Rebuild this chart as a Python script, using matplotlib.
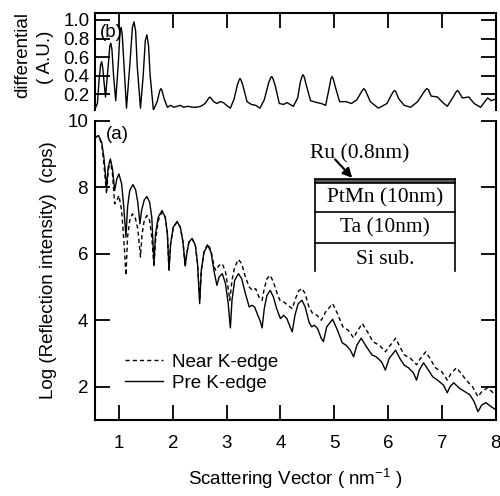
import numpy as np
import matplotlib
matplotlib.use("Agg")
import matplotlib.pyplot as plt

plt.rcParams['font.family'] = ['Liberation Sans', 'DejaVu Sans']

# top panel (b): differential signal
diff_x = [0.56, 0.60, 0.63, 0.66, 0.68, 0.70, 0.72, 0.75, 0.80, 0.83, 0.85, 0.87, 0.90, 0.94,
          0.99, 1.02, 1.04, 1.06, 1.09, 1.14, 1.20, 1.25, 1.28, 1.31, 1.34, 1.40, 1.45, 1.49,
          1.52, 1.55, 1.58, 1.64, 1.71, 1.76, 1.78, 1.80, 1.84, 1.90, 1.96, 2.02,
          2.08, 2.14, 2.20, 2.28, 2.36, 2.44, 2.52, 2.60, 2.67, 2.69, 2.72, 2.76, 2.82, 2.88,
          2.94, 3.00, 3.07, 3.14, 3.20, 3.23, 3.25, 3.27, 3.30, 3.38, 3.46, 3.54, 3.62, 3.70,
          3.78, 3.82, 3.84, 3.86, 3.90, 3.98, 4.06, 4.12, 4.24, 4.32, 4.37, 4.40, 4.42, 4.44,
          4.48, 4.56, 4.68, 4.76, 4.84, 4.90, 4.94, 4.96, 4.98, 5.02, 5.10, 5.22, 5.32, 5.42,
          5.52, 5.55, 5.58, 5.67, 5.82, 5.98, 6.05, 6.10, 6.12, 6.14, 6.20, 6.30, 6.42, 6.55,
          6.65, 6.70, 6.72, 6.75, 6.80, 6.92, 7.00, 7.10, 7.20, 7.27, 7.29, 7.31, 7.38, 7.50,
          7.60, 7.72, 7.85, 7.92, 8.00]
diff_y = [0.05, 0.10, 0.35, 0.52, 0.55, 0.48, 0.35, 0.17, 0.50, 0.72, 0.75, 0.68, 0.40, 0.13,
          0.55, 0.88, 0.92, 0.85, 0.55, 0.05, 0.50, 0.92, 0.98, 0.88, 0.50, 0.05, 0.40, 0.78,
          0.84, 0.72, 0.40, 0.03, 0.12, 0.24, 0.26, 0.24, 0.15, 0.06, 0.08, 0.06,
          0.07, 0.08, 0.06, 0.07, 0.06, 0.06, 0.07, 0.10, 0.16, 0.17, 0.15, 0.12, 0.10, 0.12,
          0.11, 0.08, 0.05, 0.15, 0.30, 0.35, 0.37, 0.35, 0.30, 0.12, 0.09, 0.08, 0.05, 0.14,
          0.32, 0.38, 0.39, 0.37, 0.30, 0.10, 0.09, 0.11, 0.07, 0.16, 0.33, 0.39, 0.41, 0.39,
          0.30, 0.13, 0.11, 0.10, 0.08, 0.25, 0.37, 0.39, 0.37, 0.28, 0.12, 0.12, 0.10, 0.14,
          0.24, 0.26, 0.24, 0.12, 0.05, 0.10, 0.18, 0.23, 0.24, 0.23, 0.15, 0.08, 0.06, 0.12,
          0.21, 0.25, 0.26, 0.25, 0.18, 0.17, 0.12, 0.07, 0.16, 0.23, 0.24, 0.23, 0.16, 0.17,
          0.10, 0.06, 0.16, 0.13, 0.15]

# bottom panel (a): Pre K-edge (solid)
pre_x = [0.56, 0.62, 0.68, 0.72, 0.77, 0.80, 0.84, 0.88, 0.92, 0.96, 1.00, 1.05, 1.09, 1.13,
         1.16, 1.20, 1.26, 1.31, 1.35, 1.39, 1.42, 1.47, 1.52, 1.57, 1.61, 1.65, 1.68, 1.73,
         1.80, 1.86, 1.90, 1.93, 1.96, 2.01, 2.08, 2.14, 2.19, 2.23, 2.26, 2.30, 2.36, 2.42,
         2.46, 2.50, 2.53, 2.58, 2.65, 2.71, 2.77, 2.82, 2.86, 2.92, 2.98, 3.03, 3.07, 3.10,
         3.15, 3.22, 3.28, 3.35, 3.42, 3.47, 3.52, 3.58, 3.63, 3.66, 3.70, 3.75, 3.81, 3.87,
         3.93, 4.00, 4.06, 4.12, 4.18, 4.22, 4.27, 4.33, 4.40, 4.46, 4.53, 4.58, 4.63, 4.69,
         4.76, 4.80, 4.86, 4.97, 5.06, 5.15, 5.22, 5.30, 5.36, 5.42, 5.50, 5.60,
         5.70, 5.78, 5.88, 5.95, 6.02, 6.14, 6.22, 6.30, 6.38, 6.47, 6.53, 6.58, 6.66, 6.75,
         6.83, 6.92, 7.03, 7.10, 7.15, 7.22, 7.33, 7.43, 7.52, 7.60, 7.67, 7.74, 7.82, 7.90, 8.00]
pre_y = [9.50, 9.55, 9.35, 8.90, 8.00, 8.60, 8.85, 8.55, 7.90, 8.25, 8.40, 8.10, 7.40, 6.50,
         7.40, 7.90, 8.08, 7.92, 7.55, 6.90, 7.30, 7.62, 7.72, 7.55, 7.10, 5.70, 6.60, 7.10,
         7.30, 7.10, 6.60, 5.50, 6.30, 6.80, 6.97, 6.80, 6.35, 5.65, 6.00, 6.35, 6.46, 6.25,
         5.70, 4.50, 5.50, 6.05, 6.25, 6.05, 5.45, 5.05, 5.30, 5.40, 5.10, 4.50, 3.77, 4.60,
         5.20, 5.40, 5.25, 4.80, 4.40, 4.45, 4.40, 4.15, 3.95, 3.77, 4.35, 4.75, 4.90, 4.70,
         4.35, 4.05, 4.15, 4.05, 3.80, 3.65, 4.15, 4.50, 4.60, 4.40, 3.95, 3.80, 3.85, 3.75,
         3.45, 3.36, 3.80, 4.03, 3.70, 3.32, 3.25, 3.10, 2.90, 3.25, 3.46, 3.20,
         2.96, 2.90, 2.75, 2.50, 2.85, 3.10, 2.85, 2.65, 2.57, 2.42, 2.20, 2.50, 2.72, 2.50,
         2.30, 2.20, 2.05, 1.82, 2.00, 2.12, 1.95, 1.85, 1.76, 1.55, 1.25, 1.45, 1.52, 1.42, 1.31]

# bottom panel (a): Near K-edge (dashed)
near_x = [0.56, 0.62, 0.68, 0.72, 0.77, 0.80, 0.84, 0.88, 0.92, 0.96, 1.00, 1.05, 1.10, 1.13,
          1.16, 1.20, 1.25, 1.30, 1.35, 1.40, 1.43, 1.47, 1.52, 1.57, 1.61, 1.65, 1.68, 1.73,
          1.80, 1.86, 1.90, 1.93, 1.96, 2.01, 2.08, 2.14, 2.19, 2.23, 2.26, 2.30, 2.36, 2.42,
          2.46, 2.50, 2.53, 2.58, 2.65, 2.71, 2.77, 2.80, 2.86, 2.92, 2.98, 3.03, 3.06, 3.10,
          3.15, 3.22, 3.28, 3.35, 3.42, 3.48, 3.54, 3.60, 3.66,
          3.70, 3.75, 3.81, 3.87, 3.93, 3.99, 4.06, 4.14, 4.22, 4.28, 4.34, 4.40, 4.46, 4.53,
          4.60, 4.68, 4.76, 4.84, 4.97, 5.06, 5.16, 5.26, 5.36, 5.42, 5.52, 5.62, 5.72, 5.84,
          5.95, 6.02, 6.14, 6.22, 6.30, 6.42, 6.53, 6.60, 6.70, 6.78, 6.88, 7.00, 7.10, 7.17,
          7.27, 7.36, 7.45, 7.57, 7.67, 7.74, 7.85, 7.93, 8.00]
near_y = [9.50, 9.55, 9.30, 8.70, 7.80, 8.50, 8.80, 8.40, 7.50, 7.60, 7.75, 7.30, 6.20, 5.35,
          6.50, 7.00, 7.20, 7.10, 6.75, 5.90, 6.60, 7.00, 7.15, 7.00, 6.50, 5.60, 6.40, 7.00,
          7.25, 7.10, 6.60, 5.50, 6.30, 6.80, 6.95, 6.80, 6.35, 5.60, 6.00, 6.35, 6.45, 6.25,
          5.70, 4.60, 5.50, 6.05, 6.30, 6.10, 5.60, 5.50, 5.65, 5.70, 5.45, 4.95, 4.60, 5.20,
          5.60, 5.83, 5.70, 5.30, 5.00, 4.90, 4.95, 4.70, 4.60,
          4.95, 5.25, 5.35, 5.15, 4.85, 4.60, 4.55, 4.45, 4.35, 4.65, 4.88, 4.96, 4.80, 4.40,
          4.20, 4.15, 4.00, 4.25, 4.50, 4.20, 3.80, 3.70, 3.47, 3.65, 3.90, 3.65, 3.35, 3.25,
          3.05, 3.20, 3.46, 3.20, 2.96, 2.85, 2.66, 2.85, 3.05, 2.85, 2.57, 2.45, 2.20, 2.40,
          2.57, 2.40, 2.20, 2.00, 1.70, 1.85, 1.97, 1.85, 1.76]

x_ticks = [1, 2, 3, 4, 5, 6, 7, 8]
b_yticks = [0.2, 0.4, 0.6, 0.8, 1.0]
a_yticks = [2, 4, 6, 8, 10]

FS = 13.5
TL = 10.5

fig = plt.figure(figsize=(5.0, 4.96), dpi=100)
axb = fig.add_axes([0.19, 0.7782, 0.8014, 0.195])
axa = fig.add_axes([0.19, 0.1532, 0.8014, 0.6034])

for ax in (axa, axb):
    for s in ax.spines.values():
        s.set_linewidth(1.5)

# ---- top panel
axb.plot(diff_x, diff_y, color='black', lw=1.0)
axb.set_xlim(0.555, 8)
axb.set_ylim(0.03, 1.072)
axb.spines['bottom'].set_visible(False)
axb.set_yticks(b_yticks)
axb.set_yticklabels(['0.2', '0.4', '0.6', '0.8', '1.0'])
axb.set_xticks(x_ticks)
axb.tick_params(axis='y', direction='in', length=TL, width=1.3, left=True, right=True,
                labelsize=FS, pad=4)
axb.tick_params(axis='x', direction='in', length=TL, width=1.3, top=True, bottom=False,
                labelbottom=False, labeltop=False)
axb.text(0.86, 0.865, '(b)', fontsize=FS, ha='center', va='center')
fig.text(0.045, 0.89, 'differential', rotation=90, fontsize=FS, ha='center', va='center')
fig.text(0.092, 0.885, '( A.U.)', rotation=90, fontsize=FS, ha='center', va='center')

# ---- bottom panel
axa.plot(near_x, near_y, color='black', lw=1.0, dashes=(3, 2.2), label='Near K-edge')
axa.plot(pre_x, pre_y, color='black', lw=1.0, label='Pre K-edge')
axa.set_xlim(0.555, 8)
axa.set_ylim(1, 10)
axa.spines['top'].set_visible(False)
axa.set_xticks(x_ticks)
axa.set_yticks(a_yticks)
axa.tick_params(axis='both', direction='in', length=TL, width=1.3, labelsize=FS)
axa.tick_params(axis='y', left=True, right=True, pad=5)
axa.tick_params(axis='x', pad=11)
axa.set_xlabel('Scattering Vector ( nm$^{\\mathregular{-1}}$ )', fontsize=FS, labelpad=10)
axa.set_ylabel('Log (Reflection intensity)  (cps)', fontsize=FS, labelpad=7)
axa.text(0.97, 9.6, '(a)', fontsize=FS, ha='center', va='center')

leg = axa.legend(loc='lower left', bbox_to_anchor=(0.075, 0.095), frameon=False,
                 fontsize=FS, handlelength=2.0, handletextpad=0.5, labelspacing=0.2,
                 borderpad=0, borderaxespad=0)

# ---- layer stack inset (data coords of panel a)
serif = ['Liberation Serif', 'DejaVu Serif']
SFS = 15.5
bl, br = 4.64, 7.245
y_top, y_ru, y_pt, y_ta, y_si = 8.24, 8.14, 7.26, 6.32, 5.48
for yy in (y_top, y_ru, y_pt, y_ta):
    axa.plot([bl, br], [yy, yy], color='black', lw=1.2)
axa.fill_between([bl, br], y_ru, y_top, color='0.35', lw=0)
axa.plot([bl, bl], [y_top, y_si], color='black', lw=1.2)
axa.plot([br, br], [y_top, y_si], color='black', lw=1.2)
xc = (bl + br) / 2
axa.text(xc, 7.67, 'PtMn (10nm)', family=serif, fontsize=SFS, ha='center', va='center')
axa.text(xc, 6.77, 'Ta (10nm)', family=serif, fontsize=SFS, ha='center', va='center')
axa.text(xc, 5.82, 'Si sub.', family=serif, fontsize=SFS, ha='center', va='center')
axa.text(5.48, 9.0, 'Ru (0.8nm)', family=serif, fontsize=SFS, ha='center', va='center')
axa.annotate('', xy=(5.37, 8.22), xytext=(4.98, 8.9),
             arrowprops=dict(arrowstyle='-|>', color='black', lw=1.5, mutation_scale=14))

fig.savefig('out.png', dpi=100)
